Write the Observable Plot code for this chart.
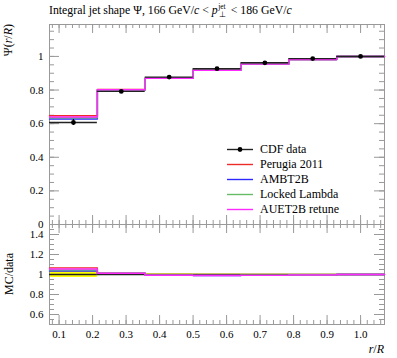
<!DOCTYPE html>
<html><head><meta charset="utf-8">
<script src="https://cdn.jsdelivr.net/npm/d3@7"></script>
<script src="https://cdn.jsdelivr.net/npm/@observablehq/plot@0.6"></script>
<style>
body{margin:0;background:#fff;}
#wrap{position:relative;width:397px;height:358px;font-family:"Liberation Serif",serif;color:#000;overflow:hidden;}
.abs{position:absolute;white-space:nowrap;}
#main,#ratio{position:absolute;left:0;}
#main{top:0;}
#ratio{top:214px;}
.rot{position:absolute;transform-origin:0 0;white-space:nowrap;font-size:12px;line-height:12px;}
.leg{position:absolute;left:227px;top:142px;font-size:12px;}
.leg .row{display:flex;align-items:center;height:15px;}
.leg svg{margin-right:7px;}
.pp{display:inline-block;position:relative;width:10px;height:10px;}
.pp span{position:absolute;left:0.5px;font-size:7.5px;line-height:8px;}
</style></head><body><div id="wrap">
<div id="main"></div><div id="ratio"></div>
<div class="abs" style="left:49px;top:3px;font-size:11.8px;">Integral jet shape Ψ, 166 GeV/<i>c</i> &lt; <i>p</i><span class="pp"><span style="top:-1px">jet</span><span style="top:7px;left:1.5px">⊥</span></span> &lt; 186 GeV/<i>c</i></div>
<div class="rot" style="left:2px;top:24px;transform:rotate(-90deg) translateX(-100%);">Ψ(<i>r</i>/<i>R</i>)</div>
<div class="rot" style="left:3px;top:274px;transform:rotate(-90deg) translateX(-50%);">MC/data</div>
<div class="abs" style="right:13px;top:342px;font-size:12px;"><i>r</i>/<i>R</i></div>
<div class="leg" id="leg"></div>
</div>
<script>
// ---- data ----
const binEdges   = [0.0714, 0.2143, 0.3571, 0.5, 0.6429, 0.7857, 0.9286, 1.0714];
const binCenters = [0.1429, 0.2857, 0.4286, 0.5714, 0.7143, 0.8571, 1.0];
const dataVals   = [0.607, 0.792, 0.877, 0.927, 0.962, 0.987, 1.0];
const dataErr    = [0.018, 0.008, 0.006, 0.005, 0.004, 0.003, 0.001];
const perugia    = [0.647, 0.803, 0.871, 0.919, 0.955, 0.982, 1.0];
const ambt2b     = [0.628, 0.801, 0.870, 0.918, 0.954, 0.981, 1.0];
const lockedL    = [0.635, 0.802, 0.871, 0.919, 0.955, 0.982, 1.0];
const auet2b     = [0.640, 0.802, 0.870, 0.918, 0.954, 0.982, 1.0];
const seriesNames  = ["Perugia 2011", "AMBT2B", "Locked Lambda", "AUET2B retune"];
const seriesVals   = [perugia, ambt2b, lockedL, auet2b];
const seriesColors = ["#ee2a2a", "#2a2aff", "#66bb66", "#ff2aff"];
const dataName = "CDF data";
const yMainTicks  = [0, 0.2, 0.4, 0.6, 0.8, 1];
const yRatioTicks = [0.6, 0.8, 1, 1.2, 1.4];
const xTicks      = [0.1, 0.2, 0.3, 0.4, 0.5, 0.6, 0.7, 0.8, 0.9, 1.0];

// ---- helpers ----
const FONT = '"Liberation Serif", serif';
const GRAY = "#999";
const W = 397, ML = 49, MR = 13, FW = W - ML - MR;
const xMinor = d3.range(4, 54).map(i => i * 0.02);
const yMainMinor = d3.range(0, 24).map(i => i * 0.05);
const yRatioMinor = d3.range(10, 31).map(i => i * 0.05);
const stepPts = vals => binEdges.map((e, i) => ({x: e, y: vals[Math.min(i, vals.length - 1)]}));
const bins = binCenters.map((c, i) => ({c, lo: binEdges[i], hi: binEdges[i + 1], v: dataVals[i], e: dataErr[i]}));

function frameTicks(FH, yMajor, yMinor, xMajLen, xMinLen, yMajLen, yMinLen) {
  return [
    Plot.tickX(xTicks, {x: d => d, insetTop: FH - xMajLen, stroke: GRAY}),
    Plot.tickX(xTicks, {x: d => d, insetBottom: FH - xMajLen, stroke: GRAY}),
    Plot.tickX(xMinor, {x: d => d, insetTop: FH - xMinLen, stroke: GRAY}),
    Plot.tickX(xMinor, {x: d => d, insetBottom: FH - xMinLen, stroke: GRAY}),
    Plot.tickY(yMajor, {y: d => d, insetRight: FW - yMajLen, stroke: GRAY}),
    Plot.tickY(yMajor, {y: d => d, insetLeft: FW - yMajLen, stroke: GRAY}),
    Plot.tickY(yMinor, {y: d => d, insetRight: FW - yMinLen, stroke: GRAY}),
    Plot.tickY(yMinor, {y: d => d, insetLeft: FW - yMinLen, stroke: GRAY}),
    Plot.frame({stroke: GRAY})
  ];
}

// ---- main panel ----
const mainH = 226, mainMT = 24, mainMB = 2;
const main = Plot.plot({
  width: W, height: mainH, marginTop: mainMT, marginBottom: mainMB, marginLeft: ML, marginRight: MR,
  style: {fontFamily: FONT, fontSize: "11px", background: "transparent", overflow: "visible"},
  x: {domain: [binEdges[0], binEdges[binEdges.length - 1]], axis: null},
  y: {domain: [0, 1.19]},
  marks: [
    Plot.axisY(yMainTicks, {tickSize: 0, tickPadding: 6, tickFormat: d => String(d), fontSize: 11, label: null}),
    ...frameTicks(mainH - mainMT - mainMB, yMainTicks, yMainMinor, 9, 4, 10, 5),
    ...seriesVals.map((vals, k) => Plot.line(stepPts(vals), {x: "x", y: "y", curve: "step-after", stroke: seriesColors[k], strokeWidth: 1.4})),
    Plot.ruleY(bins, {x1: "lo", x2: "hi", y: "v", stroke: "#222", strokeWidth: 1.4}),
    Plot.ruleX(bins, {x: "c", y1: d => d.v - d.e, y2: d => d.v + d.e, stroke: "#000", strokeWidth: 1.2}),
    Plot.dot(bins, {x: "c", y: "v", r: 2.4, fill: "#000", stroke: "none"})
  ]
});
document.getElementById("main").append(main);

// ---- ratio panel ----
const rH = 144, rMT = 10, rMB = 34;
const ratio = Plot.plot({
  width: W, height: rH, marginTop: rMT, marginBottom: rMB, marginLeft: ML, marginRight: MR,
  style: {fontFamily: FONT, fontSize: "11px", background: "transparent", overflow: "visible"},
  x: {domain: [binEdges[0], binEdges[binEdges.length - 1]]},
  y: {domain: [0.5, 1.5]},
  marks: [
    Plot.rect(bins, {x1: "lo", x2: "hi", y1: d => 1 - d.e / d.v, y2: d => 1 + d.e / d.v, fill: "#ffff00"}),
    Plot.axisY(yRatioTicks, {tickSize: 0, tickPadding: 6, tickFormat: d => String(d), fontSize: 11, label: null}),
    Plot.axisX(xTicks, {tickSize: 0, tickPadding: 6, tickFormat: d3.format(".1f"), fontSize: 11, label: null}),
    ...frameTicks(rH - rMT - rMB, yRatioTicks, yRatioMinor, 9, 4, 10, 5),
    Plot.ruleY(bins, {x1: "lo", x2: "hi", y: d => 1, stroke: "#222", strokeWidth: 1.4}),
    ...seriesVals.map((vals, k) => Plot.line(stepPts(vals.map((v, i) => v / dataVals[i])), {x: "x", y: "y", curve: "step-after", stroke: seriesColors[k], strokeWidth: 1.4}))
  ]
});
document.getElementById("ratio").append(ratio);

// ---- legend ----
const leg = document.getElementById("leg");
const mkRow = (name, color, isData) => {
  const row = document.createElement("div");
  row.className = "row";
  const ns = "http://www.w3.org/2000/svg";
  const s = document.createElementNS(ns, "svg");
  s.setAttribute("width", 26); s.setAttribute("height", 15);
  const l = document.createElementNS(ns, "line");
  l.setAttribute("x1", 0); l.setAttribute("x2", 26); l.setAttribute("y1", 7.5); l.setAttribute("y2", 7.5);
  l.setAttribute("stroke", color); l.setAttribute("stroke-width", 1.4);
  s.append(l);
  if (isData) {
    const c = document.createElementNS(ns, "circle");
    c.setAttribute("cx", 13); c.setAttribute("cy", 7.5); c.setAttribute("r", 2.4); c.setAttribute("fill", "#000");
    s.append(c);
  }
  const t = document.createElement("span");
  t.textContent = name;
  row.append(s, t);
  leg.append(row);
};
mkRow(dataName, "#222", true);
seriesNames.forEach((n, k) => mkRow(n, seriesColors[k], false));
</script>
</body></html>
